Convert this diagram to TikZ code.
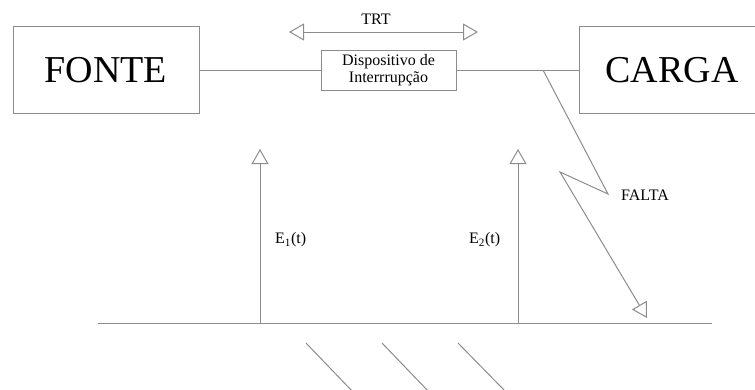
\documentclass[tikz,border=0pt]{standalone}
\usepackage{fontspec}
\setmainfont{Liberation Serif}
\usetikzlibrary{arrows.meta}
\definecolor{ln}{RGB}{140,140,140}
\begin{document}
\begin{tikzpicture}[x=1pt,y=-1pt,
  wire/.style={draw=ln,line width=1pt},
  bigbox/.style={draw=ln,line width=1pt,inner sep=0pt,outer sep=0pt,font=\fontsize{38}{40}\selectfont},
  smallbox/.style={draw=ln,line width=1pt,inner sep=0pt,outer sep=0pt,align=center,font=\fontsize{16}{17}\selectfont},
  lbl/.style={inner sep=0pt,font=\fontsize{16}{18}\selectfont},
  tri/.style={-{Triangle[open,length=15pt,width=17pt,fill=white]}}]
\clip (0,0) rectangle (755,389);
\useasboundingbox (0,0) rectangle (755,389);
\node[bigbox,minimum width=186pt,minimum height=87pt] (fonte) at (106,70) {FONTE};
\node[bigbox,minimum width=186pt,minimum height=87pt] (carga) at (672,70) {CARGA};
\node[smallbox,minimum width=135pt,minimum height=40pt] (disp) at (388.5,70) {Dispositivo de\\Interrrupção};
\draw[wire] (fonte.east) -- (disp.west);
\draw[wire] (disp.east) -- (carga.west);
% TRT
\coordinate (trtl) at (289,32);
\coordinate (trtr) at (478,32);
\draw[wire,{Triangle[open,length=15pt,width=17pt,fill=white]}-{Triangle[open,length=15pt,width=17pt,fill=white]}] (trtl) -- (trtr);
\node[lbl] (trt) at (376,19) {TRT};
% fault
\coordinate (f0) at (543,70);
\coordinate (f1) at (608,194);
\coordinate (f2) at (560,172);
\coordinate (f3) at (647,318);
\draw[wire,tri] (f0) -- (f1) -- (f2) -- (f3);
\node[lbl,anchor=west] (falta) at (621,195) {FALTA};
% ground
\coordinate (gl) at (98,323);
\coordinate (gr) at (712,323);
\draw[wire] (gl) -- (gr);
\coordinate (e1b) at (260,323);
\coordinate (e1t) at (260,149);
\coordinate (e2b) at (518,323);
\coordinate (e2t) at (518,149);
\draw[wire,tri] (e1b) -- (e1t);
\draw[wire,tri] (e2b) -- (e2t);
\node[lbl,anchor=west] (e1) at (275,240) {E\textsubscript{1}(t)};
\node[lbl,anchor=west] (e2) at (469,240) {E\textsubscript{2}(t)};
% hatch
\coordinate (h1a) at (306,343); \coordinate (h1b) at (353,392);
\coordinate (h2a) at (382,343); \coordinate (h2b) at (429,392);
\coordinate (h3a) at (458,343); \coordinate (h3b) at (506,392);
\draw[wire] (h1a) -- (h1b);
\draw[wire] (h2a) -- (h2b);
\draw[wire] (h3a) -- (h3b);
\end{tikzpicture}
\end{document}
